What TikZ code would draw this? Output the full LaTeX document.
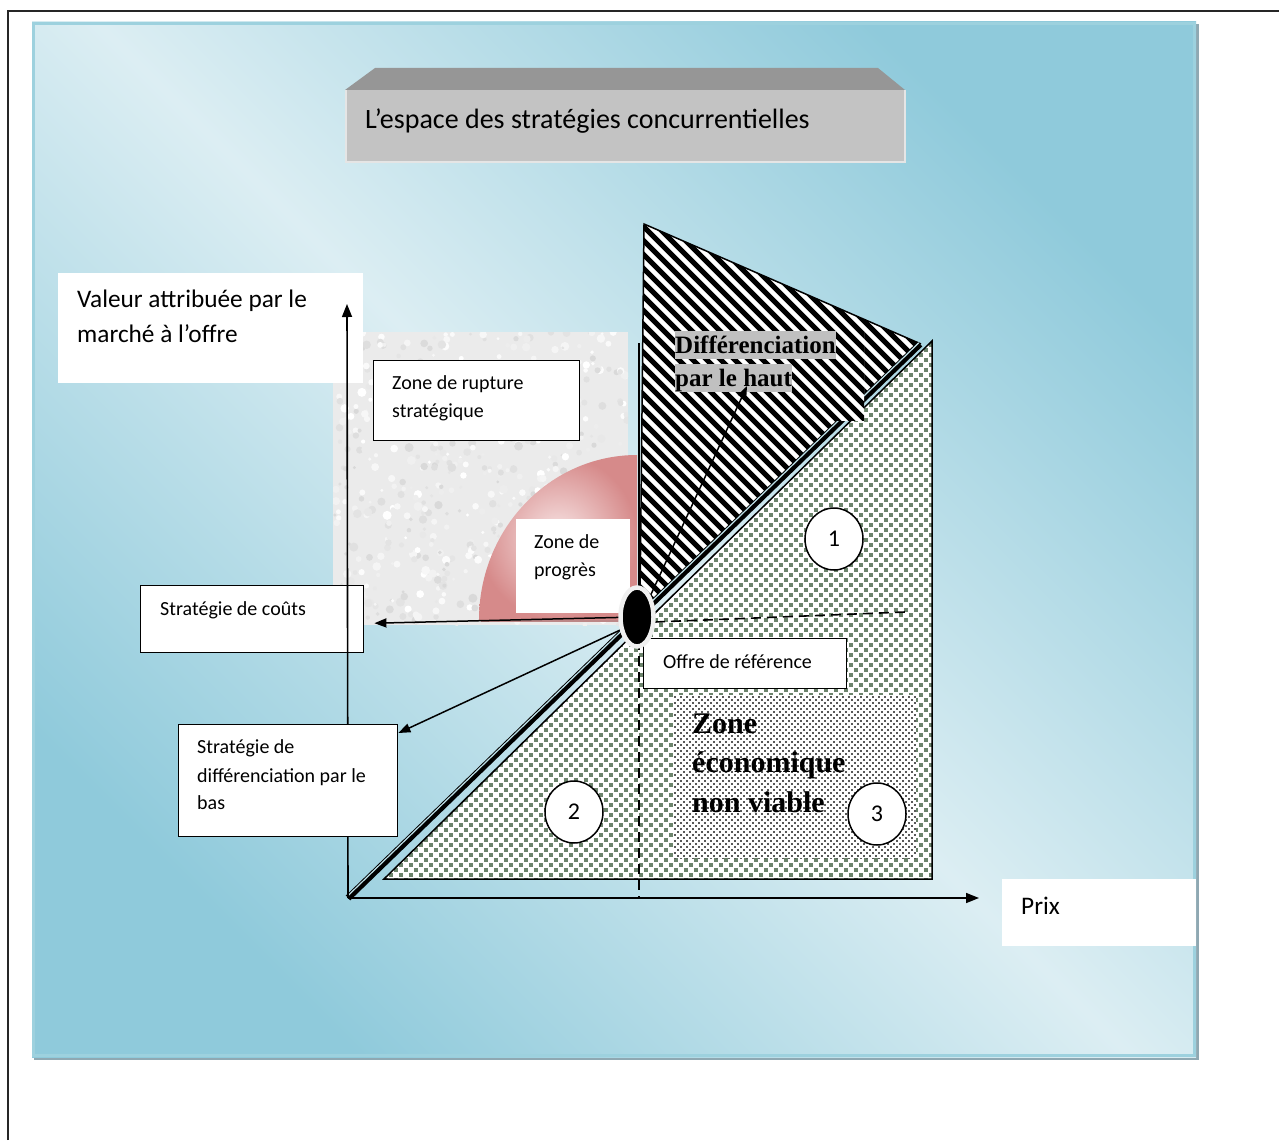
\documentclass[tikz,border=0pt]{standalone}
\usepackage{fontspec}
\setmainfont{Carlito}
\newfontfamily\timesfont{Liberation Serif}
\usetikzlibrary{arrows.meta,shapes.geometric,calc}

\definecolor{panelLight}{HTML}{DCEEF3}
\definecolor{panelDark}{HTML}{8FCADB}
\definecolor{panelEdge}{HTML}{9DD1DE}
\definecolor{panelShadow}{HTML}{8FA8B2}
\definecolor{titleTop}{HTML}{969696}
\definecolor{titleFace}{HTML}{C3C3C3}
\definecolor{dotGreen}{HTML}{6C846C}
\definecolor{pinkOut}{HTML}{D68A8A}
\definecolor{pinkIn}{HTML}{F8E6E6}
\definecolor{hiGray}{HTML}{C0C0C0}
\definecolor{noiseBase}{HTML}{EBEBEB}
\definecolor{glint}{HTML}{BFE2EA}

\begin{document}
\begin{tikzpicture}[x=1pt,y=-1pt,
  box/.style={draw=black, line width=1.4pt, fill=white, inner sep=0pt, anchor=north west},
  plain/.style={fill=white, inner sep=0pt, anchor=north west},
  txt/.style={anchor=base west, inner sep=0pt, font=\fontsize{20}{24}\selectfont},
  bigtxt/.style={anchor=base west, inner sep=0pt, font=\fontsize{25.3}{30}\selectfont},
  hilite/.style={anchor=base west, inner sep=0pt, fill=hiGray, text height=22.5pt, text depth=5.5pt,
                 font=\timesfont\bfseries\fontsize{25}{30}\selectfont},
  ecotxt/.style={anchor=base west, inner sep=0pt, font=\timesfont\bfseries\fontsize{30}{36}\selectfont},
  numc/.style={ellipse, draw=black, line width=1.5pt, fill=white, inner sep=0pt,
               minimum width=58pt, minimum height=62pt, font=\fontsize{24}{28}\selectfont},
  arr/.style={-{Triangle[length=12pt,width=9pt]}, line width=1.5pt},
  axisline/.style={-{Triangle[length=13pt,width=10pt]}, line width=1.6pt},
  guide/.style={line width=1.6pt, dash pattern=on 10pt off 6pt},
  squarerow/.style={dotGreen, line width=3.6pt, dash pattern=on 3.6pt off 6.4pt},
  dotrow/.style={black!65, line width=1.6pt, dash pattern=on 1.6pt off 4.4pt},
]
% diagonal stripes shared by the upper zone and its label
\newcommand\stripeset{%
  \fill[white] (600,200) rectangle (950,650);
  \draw[line width=5.2pt] \foreach \c in {0,...,49} {({235+14*\c},210) -- ++(420,420)};
}

\useasboundingbox (0,0) rectangle (1279,1140);
\fill[white] (0,0) rectangle (1279,1140);

% page frame
\draw[line width=1.3pt, black!85] (8,1140) -- (8,11) -- (1279,11);

% blue panel
\fill[panelShadow] (34,24) rectangle (1199,1060);
\shade[top color=panelDark, bottom color=panelDark, middle color=panelLight, shading angle=-45]
  (32,22) rectangle (1196,1057);
\draw[panelEdge, line width=3pt] (33.5,23.5) rectangle (1194.5,1055.5);

% bevelled title plate
\fill[titleTop] (375,68) -- (878,68) -- (905,90) -- (345,90) -- cycle;
\fill[titleFace] (345,90) rectangle (905,163);
\draw[white!80!gray, line width=1.5pt] (346,90) -- (346,162) -- (905,162) -- (905,90);
\node[anchor=base west, inner sep=0pt, font=\fontsize{28}{33}\selectfont] (title) at (365,128)
  {L’espace des stratégies concurrentielles};

% mottled grey zone
\begin{scope}
  \clip (333,332) rectangle (628,625);
  \fill[noiseBase] (333,332) rectangle (628,625);
  \pgfmathsetseed{11}
  \foreach \k in {1,...,700}{%
    \pgfmathsetmacro\px{333+295*rnd}%
    \pgfmathsetmacro\py{332+293*rnd}%
    \pgfmathsetmacro\gv{int(16*rnd)}%
    \pgfmathsetmacro\rr{1.5+3*rnd}%
    \fill[black!\gv] (\px,\py) circle[radius=\rr];
  }
\end{scope}

% quarter disc of progress
\shade[inner color=pinkIn, outer color=pinkOut]
  (637,620) -- (479,620) arc[start angle=180, end angle=270, x radius=158, y radius=165] -- cycle;
\draw[pinkOut!70!gray, line width=1.5pt] (481,621) -- (636,621);

% hatched upper zone
\begin{scope}
  \clip (644,224) -- (921,344) -- (655,601) -- (640,601) -- cycle;
  \stripeset
\end{scope}
\draw[line width=1.5pt] (640,601) -- (644,224) -- (921,344);

% dotted lower zone
\begin{scope}
  \clip (384,879) -- (932,341) -- (932,879) -- cycle;
  \fill[white] (380,335) rectangle (936,883);
  \foreach \r in {0,...,108}
    {\draw[squarerow] ({384+5*mod(\r,2)},{340.15+5*\r}) -- (940,{340.15+5*\r});}
\end{scope}
\draw[line width=1.5pt] (384,879) -- (932,341) -- (932,879) -- cycle;

% non viable zone
\begin{scope}
  \clip (673,695) rectangle (916,858);
  \fill[white] (673,695) rectangle (916,858);
  \foreach \r in {0,...,54}
    {\draw[dotrow] ({674+3*mod(\r,2)},{697+3*\r}) -- (920,{697+3*\r});}
\end{scope}
\node[ecotxt] (eco1) at (692,733) {Zone};
\node[ecotxt] (eco2) at (692,772) {économique};
\node[ecotxt] (eco3) at (692,812) {non viable};

% reference diagonal
\coordinate (origin) at (348,898);
\coordinate (diagtop) at (920,344);
\draw[line width=6.5pt] (origin) -- (diagtop);
\draw[glint, line width=1.2pt] ($(origin)+(-1.2,-1.2)$) -- ($(diagtop)+(-1.2,-1.2)$);

% label of the upper zone
\begin{scope}
  \clip (672,330) rectangle (864,420);
  \stripeset
\end{scope}
\node[hilite] (haut1) at (675,353) {Différenciation};
\node[hilite] (haut2) at (675,386) {par le haut};

% reference guides
\draw[line width=1.6pt] (639,343) -- (639,600);
\draw[guide] (655,622) -- (905,612);
\draw[guide] (639,640) -- (639,898);

% label boxes
\node[plain, minimum width=305pt, minimum height=110pt] (valbox) at (58,273) {};
\node[bigtxt] (val1) at (77,307) {Valeur attribuée par le};
\node[bigtxt] (val2) at (77,342) {marché à l’offre};

\node[box, minimum width=206pt, minimum height=80pt] (rupt) at (373,360) {};
\node[txt] (rupt1) at (392,389) {Zone de rupture};
\node[txt] (rupt2) at (392,417) {stratégique};

\node[plain, minimum width=114pt, minimum height=94pt] (prog) at (516,519) {};
\node[txt] (prog1) at (534,548) {Zone de};
\node[txt] (prog2) at (534,576) {progrès};

\node[box, minimum width=223pt, minimum height=67pt] (couts) at (140,585) {};
\node[txt] (couts1) at (160,615) {Stratégie de coûts};

% axes
\coordinate (ytip) at (347,304);
\coordinate (xtip) at (979,898);
\draw[axisline] (origin) -- (ytip);
\draw[axisline] (origin) -- (xtip);

\node[box, minimum width=219pt, minimum height=112pt] (bas) at (178,724) {};
\node[txt] (bas1) at (197,753) {Stratégie de};
\node[txt] (bas2) at (197,782) {différenciation par le};
\node[txt] (bas3) at (197,809) {bas};

\node[box, minimum width=203pt, minimum height=50pt] (offre) at (643,638) {};
\node[txt] (offre1) at (663,668) {Offre de référence};

\node[plain, minimum width=194pt, minimum height=67pt] (prixbox) at (1002,879) {};
\node[bigtxt] (prix) at (1021,914) {Prix};

% numbered zones
\node[numc] (z1) at (834,539) {1};
\node[numc] (z2) at (574,812) {2};
\node[numc] (z3) at (877,814) {3};

% reference offer and strategic moves
\coordinate (ref) at (637,617);
\coordinate (hauttip) at (747,386);
\draw[arr] (ref) -- ([xshift=10pt,yshift=-4pt]couts.east);
\draw[arr] ($(ref)+(-6,8)$) -- ([yshift=-9pt]bas.north east);
\draw[arr] ($(ref)+(10,-14)$) -- (hauttip);
\node[ellipse, fill=black, draw=gray!12, line width=4.5pt, minimum width=33pt, minimum height=59pt, inner sep=0pt] (ell) at (ref) {};
\end{tikzpicture}
\end{document}
